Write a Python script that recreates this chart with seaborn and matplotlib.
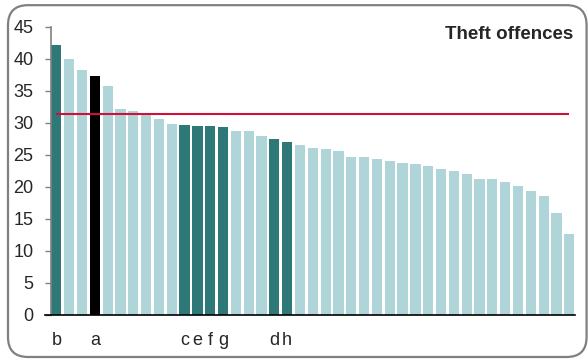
import pandas as pd
import matplotlib.pyplot as plt
from matplotlib.patches import FancyBboxPatch
import seaborn as sns

# bar values, sorted descending
values = [42.2, 39.9, 38.3, 37.3, 35.75, 32.1, 31.9, 31.6, 30.6, 29.8,
          29.7, 29.45, 29.45, 29.3, 28.7, 28.7, 27.9, 27.4, 26.95, 26.5,
          26.0, 25.85, 25.65, 24.6, 24.6, 24.3, 24.1, 23.8, 23.5, 23.3,
          22.8, 22.4, 21.95, 21.3, 21.2, 20.7, 20.2, 19.3, 18.5, 15.9, 12.7]
labels = ['b', '', '', 'a', '', '', '', '', '', '',
          'c', 'e', 'f', 'g', '', '', '', 'd', 'h', '',
          '', '', '', '', '', '', '', '', '', '',
          '', '', '', '', '', '', '', '', '', '', '']
groups = ['dark', 'light', 'light', 'black', 'light', 'light', 'light', 'light', 'light', 'light',
          'dark', 'dark', 'dark', 'dark', 'light', 'light', 'light', 'dark', 'dark', 'light',
          'light', 'light', 'light', 'light', 'light', 'light', 'light', 'light', 'light', 'light',
          'light', 'light', 'light', 'light', 'light', 'light', 'light', 'light', 'light', 'light', 'light']
average = 31.4
title = 'Theft offences'

palette = {'light': '#afd5d8', 'dark': '#2f7878', 'black': '#000000'}

df = pd.DataFrame({'pos': range(len(values)), 'value': values, 'group': groups})

sns.set_style('white')
plt.rcParams['font.family'] = ['Liberation Sans', 'DejaVu Sans']

fig = plt.figure(figsize=(5.88, 3.59), dpi=100)
ax = fig.add_axes([0.0867, 0.1226, 0.8913, 0.803])

sns.barplot(data=df, x='pos', y='value', hue='group', palette=palette,
            dodge=False, width=0.8, legend=False, saturation=1,
            edgecolor='none', ax=ax)

ax.hlines(average, 0, len(values) - 1, color='#d0103a', linewidth=1.5, zorder=3)

ax.set_ylim(0, 45)
ax.set_xlim(-0.42, len(values) - 0.55)
ax.set_yticks(range(0, 46, 5))
ax.tick_params(axis='y', labelsize=13, length=4.3, width=1, color='#808080',
               left=True, pad=8.4)
idx = [i for i, l in enumerate(labels) if l]
ax.set_xticks(idx)
ax.set_xticklabels([labels[i] for i in idx], fontsize=13)
ax.tick_params(axis='x', length=0, pad=12)
ax.set_xlabel('')
ax.set_ylabel('')

for s in ['top', 'right']:
    ax.spines[s].set_visible(False)
ax.spines['left'].set_color('#808080')
ax.spines['left'].set_linewidth(1.2)
ax.spines['bottom'].set_color('black')
ax.spines['bottom'].set_linewidth(1.2)
ax.spines['bottom'].set_bounds(-0.9, len(values) - 0.55)

fig.text(0.9745, 0.8905, title, ha='right', va='baseline',
         fontsize=13.5, fontweight='bold')

# rounded frame around the figure
frame = FancyBboxPatch((0.0136, 0.0056), 0.984, 0.98,
                       boxstyle='round,pad=0,rounding_size=0.034',
                       transform=fig.transFigure, facecolor='none',
                       edgecolor='#808080', linewidth=1.6, mutation_aspect=588 / 359)
fig.patches.append(frame)

fig.savefig('out.png', dpi=100)
